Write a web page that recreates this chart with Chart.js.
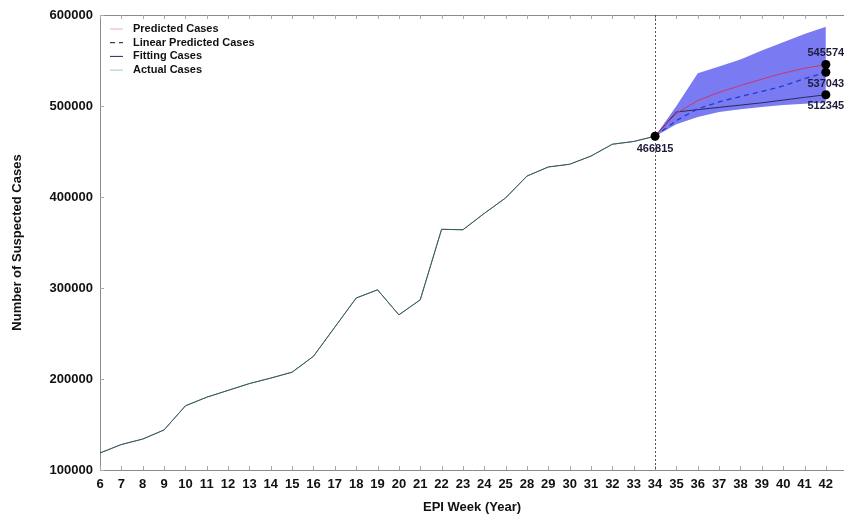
<!DOCTYPE html>
<html>
<head>
<meta charset="utf-8">
<script src="https://cdn.jsdelivr.net/npm/chart.js@4.4.0/dist/chart.umd.min.js"></script>
<style>
  html, body { margin: 0; padding: 0; background: #fff; }
  #wrap { width: 844px; height: 520px; }
</style>
</head>
<body>
<div id="wrap"><canvas id="chart"></canvas></div>
<script>
// week labels on the x axis (26 and 27 are missing in the source)
const weekLabels = ['6','7','8','9','10','11','12','13','14','15','16','17','18','19','20','21','22','23','24','25',
  '28','29','30','31','32','33','34','35','36','37','38','39','40','41','42'];

// observed cases, weeks 6..34
const actualCases = [118700, 128000, 134000, 144000, 170500, 180000, 187500, 195000, 201000, 207500,
  225000, 257000, 289000, 298000, 270500, 287000, 364500, 364000, 382000, 399000,
  423000, 433000, 436000, 445000, 458000, 461000, 466815];

// forecast, weeks 34..42
const predictedCases = [466815, 492000, 506000, 515000, 522500, 529500, 536000, 541500, 545574];
const linearCases    = [466815, 484000, 497000, 504500, 510500, 516000, 522000, 530000, 537043];
const fittingCases   = [466815, 493400, 496000, 498500, 501000, 503500, 506500, 509500, 512345];
const upperBand      = [466815, 500000, 536000, 543500, 551000, 561000, 570000, 579000, 587000];
const lowerBand      = [466815, 480000, 488000, 493500, 496500, 499000, 501000, 502500, 504000];

const yTicks = [100000, 200000, 300000, 400000, 500000, 600000];

const forecastStart = actualCases.length - 1;
const toPts = (arr, start) => arr.map((v, i) => ({x: start + i, y: v}));
const lastIdx = forecastStart + predictedCases.length - 1;

const markers = [
  {x: forecastStart, y: actualCases[forecastStart], label: String(actualCases[forecastStart]), dy: 13},
  {x: lastIdx, y: predictedCases[predictedCases.length - 1], label: String(predictedCases[predictedCases.length - 1]), dy: -12},
  {x: lastIdx, y: linearCases[linearCases.length - 1], label: String(linearCases[linearCases.length - 1]), dy: 12},
  {x: lastIdx, y: fittingCases[fittingCases.length - 1], label: String(fittingCases[fittingCases.length - 1]), dy: 11}
];

const FONT = "'Liberation Sans', Arial, Helvetica, sans-serif";

const framePlugin = {
  id: 'frame',
  beforeDatasetsDraw(chart) {
    const {ctx, chartArea: a, scales: {x, y}} = chart;
    ctx.save();
    // top border
    ctx.strokeStyle = '#8a8a8a';
    ctx.lineWidth = 1;
    ctx.beginPath();
    ctx.moveTo(a.left, a.top + 0.5);
    ctx.lineTo(a.right, a.top + 0.5);
    ctx.stroke();
    // inward ticks
    ctx.strokeStyle = '#aaa';
    weekLabels.forEach((w, i) => {
      const px = Math.round(x.getPixelForValue(i)) + 0.5;
      ctx.beginPath();
      ctx.moveTo(px, a.bottom); ctx.lineTo(px, a.bottom - 4);
      ctx.moveTo(px, a.top); ctx.lineTo(px, a.top + 4);
      ctx.stroke();
    });
    yTicks.forEach(v => {
      const py = Math.round(y.getPixelForValue(v)) + 0.5;
      ctx.beginPath();
      ctx.moveTo(a.left, py); ctx.lineTo(a.left + 4, py);
      ctx.stroke();
    });
    // vertical dotted line at forecast start
    const vx = Math.round(x.getPixelForValue(forecastStart)) + 0.5;
    ctx.strokeStyle = '#555';
    ctx.setLineDash([2, 2]);
    ctx.beginPath();
    ctx.moveTo(vx, a.top); ctx.lineTo(vx, a.bottom);
    ctx.stroke();
    ctx.restore();
  },
  afterDraw(chart) {
    const {ctx, scales: {x, y}} = chart;
    ctx.save();
    // point markers and their labels
    markers.forEach(m => {
      const px = x.getPixelForValue(m.x), py = y.getPixelForValue(m.y);
      ctx.fillStyle = '#000';
      ctx.beginPath();
      ctx.arc(px, py, 4.5, 0, Math.PI * 2);
      ctx.fill();
      ctx.fillStyle = '#1c1c3a';
      ctx.font = 'bold 11px ' + FONT;
      ctx.textAlign = 'center';
      ctx.textBaseline = 'middle';
      ctx.fillText(m.label, px, py + m.dy);
    });
    // legend
    const items = chart.data.datasets.filter(d => d.showInLegend);
    ctx.font = 'bold 11px ' + FONT;
    ctx.textAlign = 'left';
    ctx.textBaseline = 'middle';
    items.forEach((d, i) => {
      const ly = 29 + i * 13.7;
      ctx.strokeStyle = d.legendColor;
      ctx.lineWidth = 1;
      ctx.setLineDash(d.borderDash || []);
      ctx.beginPath();
      ctx.moveTo(110, ly); ctx.lineTo(123, ly);
      ctx.stroke();
      ctx.setLineDash([]);
      ctx.fillStyle = '#111';
      ctx.fillText(d.label, 133, ly);
    });
    ctx.restore();
  }
};

new Chart(document.getElementById('chart'), {
  type: 'line',
  data: {
    datasets: [
      {
        label: 'band-upper', data: toPts(upperBand, forecastStart),
        borderWidth: 0, pointRadius: 0, fill: '+1', backgroundColor: '#7a7af2', order: 5
      },
      {
        label: 'band-lower', data: toPts(lowerBand, forecastStart),
        borderWidth: 0, pointRadius: 0, fill: false, order: 5
      },
      {
        label: 'Predicted Cases', data: toPts(predictedCases, forecastStart), showInLegend: true,
        borderColor: '#c8386a', legendColor: '#f2a8b4', borderWidth: 1, pointRadius: 0, order: 1
      },
      {
        label: 'Linear Predicted Cases', data: toPts(linearCases, forecastStart), showInLegend: true,
        borderColor: '#1f3ad4', legendColor: '#111', borderDash: [5, 4], borderWidth: 1.3, pointRadius: 0, order: 1
      },
      {
        label: 'Fitting Cases', data: toPts(actualCases, 0).concat(toPts(fittingCases.slice(1), forecastStart + 1)), showInLegend: true,
        borderColor: '#262a5a', legendColor: '#24245e', borderWidth: 1, pointRadius: 0, order: 2
      },
      {
        label: 'Actual Cases', data: toPts(actualCases, 0), showInLegend: true,
        borderColor: 'rgba(60,130,90,0.6)', legendColor: '#9fd0b2', borderWidth: 1, pointRadius: 0, order: 1
      }
    ]
  },
  options: {
    responsive: true,
    maintainAspectRatio: false,
    animation: false,
    layout: {padding: {top: 15, right: 0, left: 0, bottom: 0}},
    plugins: {legend: {display: false}, tooltip: {enabled: false}},
    elements: {line: {tension: 0}},
    scales: {
      x: {
        type: 'linear', min: 0, max: 34.85,
        afterFit: s => { s.height = 50; },
        grid: {drawOnChartArea: false, drawTicks: false},
        border: {color: '#8a8a8a'},
        ticks: {
          stepSize: 1, includeBounds: false, autoSkip: false, maxRotation: 0, padding: 7,
          color: '#111', font: {family: FONT, size: 13, weight: 'bold'},
          callback: v => weekLabels[v] ?? ''
        },
        title: {display: true, text: 'EPI Week (Year)', color: '#111', padding: {top: 0, bottom: 5},
          font: {family: FONT, size: 13, weight: 'bold'}}
      },
      y: {
        type: 'linear', min: 100000, max: 600000,
        afterFit: s => { s.width = 100; },
        grid: {drawOnChartArea: false, drawTicks: false},
        border: {color: '#8a8a8a'},
        ticks: {
          stepSize: 100000, padding: 7, color: '#111',
          font: {family: FONT, size: 13, weight: 'bold'},
          callback: v => String(v)
        },
        title: {display: true, text: 'Number of Suspected Cases', color: '#111', padding: {top: 10, bottom: 0},
          font: {family: FONT, size: 13, weight: 'bold'}}
      }
    }
  },
  plugins: [framePlugin]
});
</script>
</body>
</html>
